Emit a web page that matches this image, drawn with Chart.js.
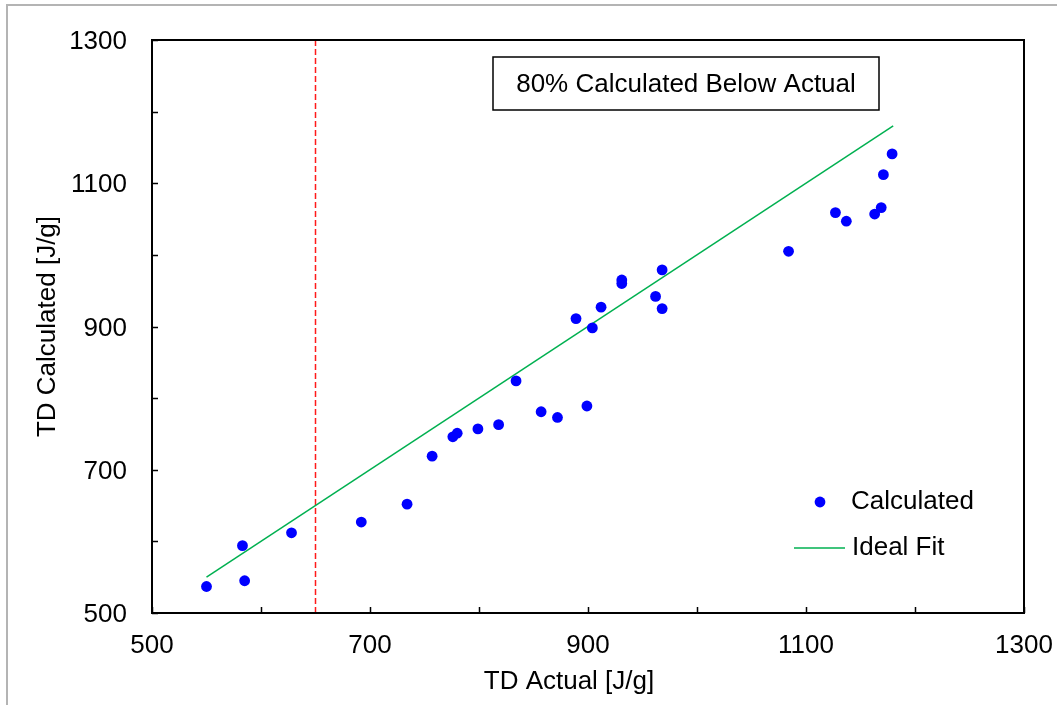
<!DOCTYPE html>
<html>
<head>
<meta charset="utf-8">
<title>TD Calculated vs TD Actual</title>
<script src="https://cdn.jsdelivr.net/npm/chart.js@4.4.1/dist/chart.umd.min.js"></script>
<style>
  html, body { margin: 0; padding: 0; background: #ffffff; }
  canvas { display: block; }
</style>
</head>
<body>
<canvas id="chart" width="1057" height="705"></canvas>
<script>
// Measured thermal decomposition energy vs. model prediction, J/g
const tdActual = [550, 583, 585, 628, 692, 734, 757, 776, 780, 799, 818, 834, 857, 872, 899,
                  889, 904, 912, 931, 931, 962, 968, 968, 1084, 1127, 1137, 1163, 1169, 1171, 1179];
const tdCalculated = [537, 594, 545, 612, 627, 652, 719, 746, 751, 757, 763, 824, 781, 773, 789,
                      911, 898, 927, 965, 960, 942, 925, 979, 1005, 1059, 1047, 1057, 1066, 1112, 1141];

// y = x reference line
const idealX = [550, 1180];
const idealY = [550, 1180];

// vertical threshold marker
const thresholdX = 650;

// axis range and labelled ticks
const axisMin = 500;
const axisMax = 1300;
const tickStep = 100;
const xTickLabels = [500, 700, 900, 1100, 1300];
const yTickLabels = [500, 700, 900, 1100, 1300];

const seriesName = 'Calculated';
const idealName = 'Ideal Fit';
const xTitle = 'TD Actual [J/g]';
const yTitle = 'TD Calculated [J/g]';
const noteText = '80% Calculated Below Actual';

const FONT = '"Liberation Sans", Arial, sans-serif';
const FONT_SIZE = 26;

const pointData = tdActual.map((x, i) => ({ x, y: tdCalculated[i] }));
const idealData = idealX.map((x, i) => ({ x, y: idealY[i] }));
const thresholdData = [{ x: thresholdX, y: axisMin }, { x: thresholdX, y: axisMax }];

// Page frame, plot box, inner tick marks, axis titles, note box and legend
const decorations = {
  id: 'decorations',
  beforeDraw(chart) {
    const ctx = chart.ctx;
    ctx.save();
    ctx.strokeStyle = '#b4b4b4';
    ctx.lineWidth = 2;
    ctx.beginPath();
    ctx.moveTo(7, 710);
    ctx.lineTo(7, 5);
    ctx.lineTo(1060, 5);
    ctx.stroke();
    ctx.restore();
  },
  afterDatasetsDraw(chart) {
    const ctx = chart.ctx;
    const a = chart.chartArea;
    const xs = chart.scales.x;
    const ys = chart.scales.y;
    ctx.save();

    // inward tick marks
    ctx.strokeStyle = '#000';
    ctx.lineWidth = 1.5;
    ctx.beginPath();
    xs.ticks.forEach(t => {
      const px = Math.round(xs.getPixelForValue(t.value)) + 0.5;
      ctx.moveTo(px, a.bottom);
      ctx.lineTo(px, a.bottom - 6);
    });
    ys.ticks.forEach(t => {
      const py = Math.round(ys.getPixelForValue(t.value)) + 0.5;
      ctx.moveTo(a.left, py);
      ctx.lineTo(a.left + 6, py);
    });
    ctx.stroke();

    // plot box
    ctx.lineWidth = 2;
    ctx.strokeRect(a.left, a.top, a.right - a.left, a.bottom - a.top);

    // axis titles
    ctx.fillStyle = '#000';
    ctx.font = FONT_SIZE + 'px ' + FONT;
    ctx.textAlign = 'center';
    ctx.textBaseline = 'middle';
    ctx.fillText(xTitle, (a.left + a.right) / 2 - 19, a.bottom + 69);
    ctx.save();
    ctx.translate(48, (a.top + a.bottom) / 2);
    ctx.rotate(-Math.PI / 2);
    ctx.fillText(yTitle, 0, 0);
    ctx.restore();

    // note box
    const bx = a.left + 341, by = a.top + 17, bw = 386, bh = 53;
    ctx.fillStyle = '#fff';
    ctx.fillRect(bx, by, bw, bh);
    ctx.lineWidth = 1.5;
    ctx.strokeStyle = '#000';
    ctx.strokeRect(bx, by, bw, bh);
    ctx.fillStyle = '#000';
    ctx.fillText(noteText, bx + bw / 2, by + bh / 2 + 1);

    // legend
    const ds0 = chart.data.datasets[0];
    const ds1 = chart.data.datasets[1];
    const lx = a.right - 204, ly1 = a.bottom - 111, ly2 = a.bottom - 65;
    ctx.fillStyle = ds0.backgroundColor;
    ctx.beginPath();
    ctx.arc(lx, ly1, ds0.pointRadius, 0, Math.PI * 2);
    ctx.fill();
    ctx.strokeStyle = ds1.borderColor;
    ctx.lineWidth = ds1.borderWidth;
    ctx.beginPath();
    ctx.moveTo(lx - 26, ly2);
    ctx.lineTo(lx + 25, ly2);
    ctx.stroke();
    ctx.fillStyle = '#000';
    ctx.textAlign = 'left';
    ctx.fillText(ds0.label, lx + 31, ly1);
    ctx.fillText(ds1.label, lx + 32, ly2);

    ctx.restore();
  }
};

new Chart(document.getElementById('chart'), {
  type: 'scatter',
  data: {
    datasets: [
      {
        label: seriesName,
        data: pointData,
        backgroundColor: '#0000ff',
        borderColor: '#0000ff',
        pointRadius: 5.4,
        pointHoverRadius: 5.4,
        borderWidth: 0,
        showLine: false
      },
      {
        label: idealName,
        data: idealData,
        borderColor: '#00b050',
        backgroundColor: '#00b050',
        borderWidth: 1.5,
        pointRadius: 0,
        showLine: true
      },
      {
        label: 'threshold',
        data: thresholdData,
        borderColor: '#ff1a1a',
        borderWidth: 1.5,
        borderDash: [6, 3],
        pointRadius: 0,
        showLine: true
      }
    ]
  },
  options: {
    responsive: false,
    animation: false,
    events: [],
    layout: { padding: { left: 0, top: 40, right: 33, bottom: 0 } },
    plugins: {
      legend: { display: false },
      tooltip: { enabled: false }
    },
    scales: {
      x: {
        type: 'linear',
        min: axisMin,
        max: axisMax,
        afterFit(scale) {
          scale.height = 92;
          scale.paddingLeft = 0;
          scale.paddingRight = 0;
        },
        border: { display: false },
        grid: { display: false, drawTicks: false },
        ticks: {
          stepSize: tickStep,
          autoSkip: false,
          maxRotation: 0,
          padding: 17,
          color: '#000',
          font: { family: FONT, size: FONT_SIZE },
          callback: v => xTickLabels.includes(v) ? String(v) : ''
        }
      },
      y: {
        type: 'linear',
        min: axisMin,
        max: axisMax,
        afterFit(scale) {
          scale.width = 152;
          scale.paddingTop = 0;
          scale.paddingBottom = 0;
        },
        border: { display: false },
        grid: { display: false, drawTicks: false },
        ticks: {
          stepSize: tickStep,
          autoSkip: false,
          padding: 25,
          labelOffset: 2,
          color: '#000',
          font: { family: FONT, size: FONT_SIZE },
          callback: v => yTickLabels.includes(v) ? String(v) : ''
        }
      }
    }
  },
  plugins: [decorations]
});
</script>
</body>
</html>
